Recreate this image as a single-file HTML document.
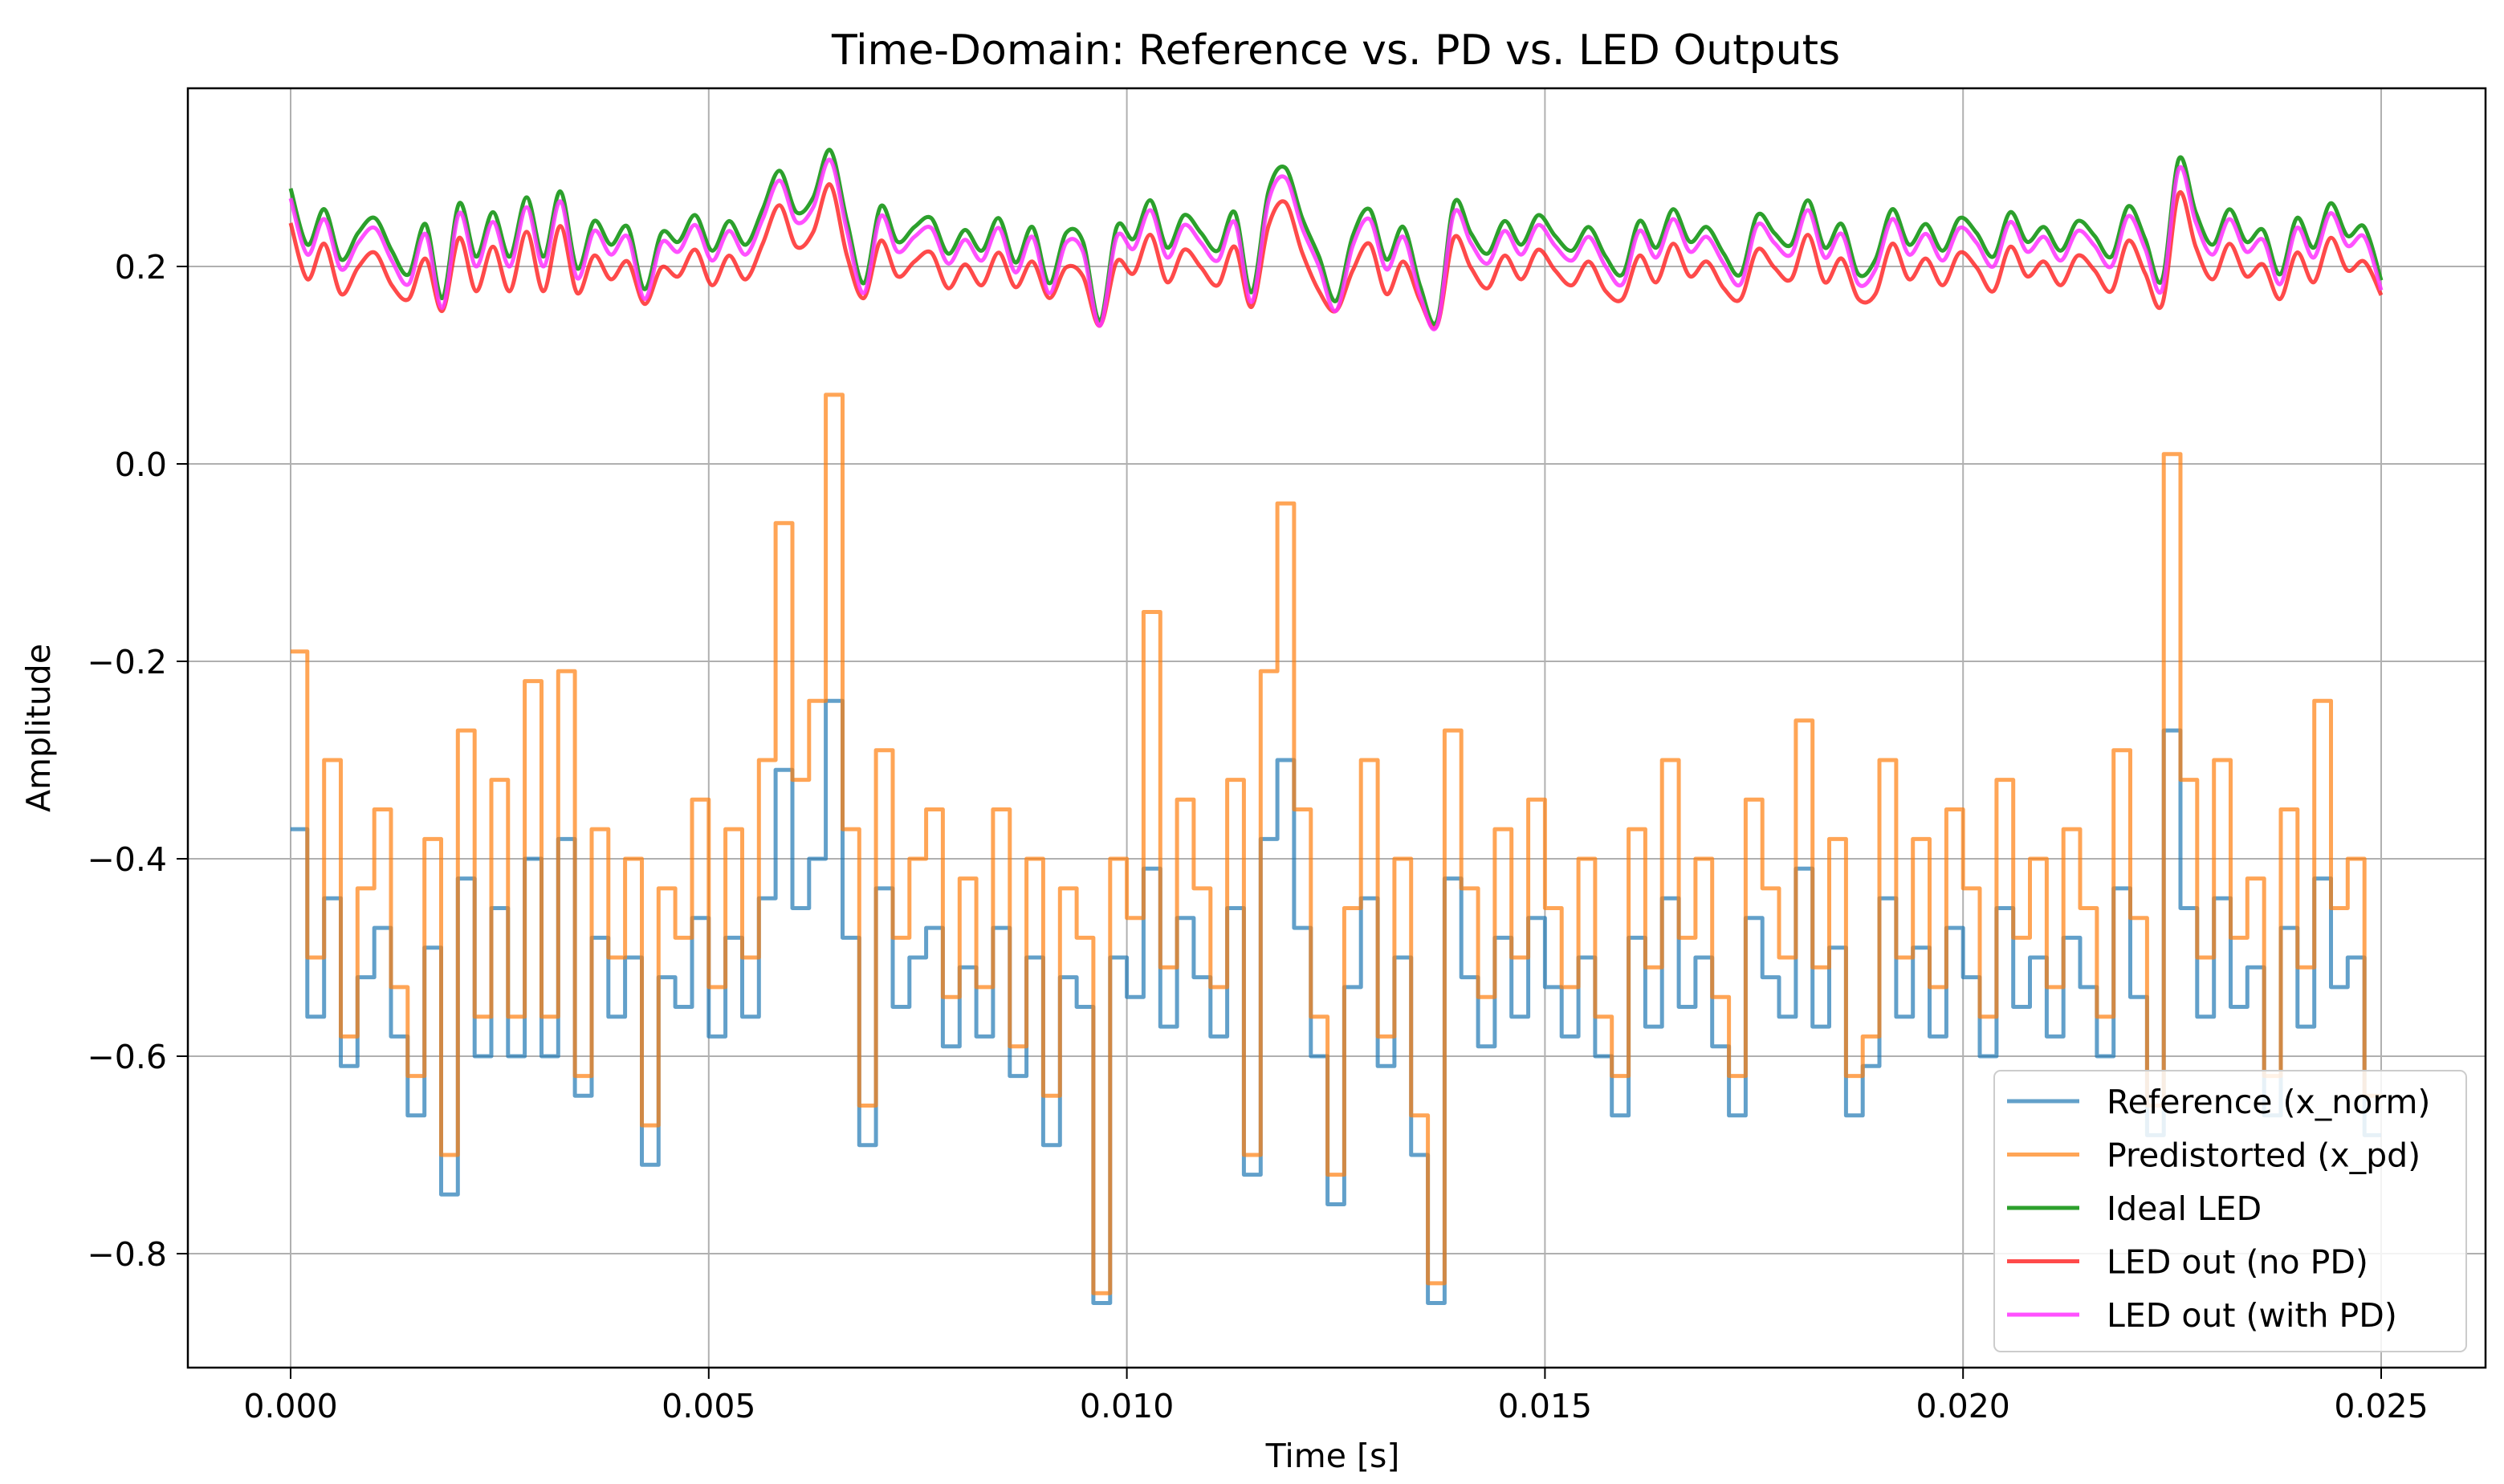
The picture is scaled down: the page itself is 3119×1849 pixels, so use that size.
<!DOCTYPE html>
<html><head><meta charset="utf-8">
<style>
html,body{margin:0;padding:0;background:#fff;}
svg{display:block;font-family:"DejaVu Sans","Liberation Sans",sans-serif;}
</style></head>
<body>
<svg id="chart" width="3119" height="1849" viewBox="0 0 3119 1849" xmlns="http://www.w3.org/2000/svg">
<rect x="0" y="0" width="3119" height="1849" fill="#fff"/>
<g id="grid"></g>
<g id="series"></g>
<rect x="234" y="110" width="2862" height="1594" fill="none" stroke="#000" stroke-width="2.5"/>
<g id="ticks"></g>
<text x="1664" y="80" font-size="52" text-anchor="middle" fill="#000">Time-Domain: Reference vs. PD vs. LED Outputs</text>
<text x="1660" y="1828" font-size="41" text-anchor="middle" fill="#000">Time [s]</text>
<text x="62" y="907" font-size="41" text-anchor="middle" fill="#000" transform="rotate(-90 62 907)">Amplitude</text>
<g id="legend">
<rect x="2484" y="1334" width="588" height="350" rx="8" fill="#fff" fill-opacity="0.85" stroke="#ccc" stroke-width="2"/>
</g>
</svg>
<script>
const xTicks=[0,0.005,0.010,0.015,0.020,0.025];
const xTickLabels=["0.000","0.005","0.010","0.015","0.020","0.025"];
const yTicks=[0.2,0,-0.2,-0.4,-0.6,-0.8];
const yTickLabels=["0.2","0.0","\u22120.2","\u22120.4","\u22120.6","\u22120.8"];
const dt=0.0002;
const refVals=[-0.37,-0.56,-0.44,-0.61,-0.52,-0.47,-0.58,-0.66,-0.49,-0.74,-0.42,-0.60,-0.45,-0.60,-0.40,-0.60,-0.38,-0.64,-0.48,-0.56,-0.50,-0.71,-0.52,-0.55,-0.46,-0.58,-0.48,-0.56,-0.44,-0.31,-0.45,-0.40,-0.24,-0.48,-0.69,-0.43,-0.55,-0.50,-0.47,-0.59,-0.51,-0.58,-0.47,-0.62,-0.50,-0.69,-0.52,-0.55,-0.85,-0.50,-0.54,-0.41,-0.57,-0.46,-0.52,-0.58,-0.45,-0.72,-0.38,-0.30,-0.47,-0.60,-0.75,-0.53,-0.44,-0.61,-0.50,-0.70,-0.85,-0.42,-0.52,-0.59,-0.48,-0.56,-0.46,-0.53,-0.58,-0.50,-0.60,-0.66,-0.48,-0.57,-0.44,-0.55,-0.50,-0.59,-0.66,-0.46,-0.52,-0.56,-0.41,-0.57,-0.49,-0.66,-0.61,-0.44,-0.56,-0.49,-0.58,-0.47,-0.52,-0.60,-0.45,-0.55,-0.50,-0.58,-0.48,-0.53,-0.60,-0.43,-0.54,-0.68,-0.27,-0.45,-0.56,-0.44,-0.55,-0.51,-0.66,-0.47,-0.57,-0.42,-0.53,-0.50,-0.68];
const pdVals=[-0.19,-0.50,-0.30,-0.58,-0.43,-0.35,-0.53,-0.62,-0.38,-0.70,-0.27,-0.56,-0.32,-0.56,-0.22,-0.56,-0.21,-0.62,-0.37,-0.50,-0.40,-0.67,-0.43,-0.48,-0.34,-0.53,-0.37,-0.50,-0.30,-0.06,-0.32,-0.24,0.07,-0.37,-0.65,-0.29,-0.48,-0.40,-0.35,-0.54,-0.42,-0.53,-0.35,-0.59,-0.40,-0.64,-0.43,-0.48,-0.84,-0.40,-0.46,-0.15,-0.51,-0.34,-0.43,-0.53,-0.32,-0.70,-0.21,-0.04,-0.35,-0.56,-0.72,-0.45,-0.30,-0.58,-0.40,-0.66,-0.83,-0.27,-0.43,-0.54,-0.37,-0.50,-0.34,-0.45,-0.53,-0.40,-0.56,-0.62,-0.37,-0.51,-0.30,-0.48,-0.40,-0.54,-0.62,-0.34,-0.43,-0.50,-0.26,-0.51,-0.38,-0.62,-0.58,-0.30,-0.50,-0.38,-0.53,-0.35,-0.43,-0.56,-0.32,-0.48,-0.40,-0.53,-0.37,-0.45,-0.56,-0.29,-0.46,-0.65,0.01,-0.32,-0.50,-0.30,-0.48,-0.42,-0.62,-0.35,-0.51,-0.24,-0.45,-0.40,-0.64];
const idealVals=[0.279,0.222,0.258,0.207,0.234,0.249,0.216,0.192,0.243,0.168,0.264,0.21,0.255,0.21,0.27,0.21,0.276,0.198,0.246,0.222,0.24,0.177,0.234,0.225,0.252,0.216,0.246,0.222,0.258,0.297,0.255,0.27,0.318,0.246,0.183,0.261,0.225,0.24,0.249,0.213,0.237,0.216,0.249,0.204,0.24,0.183,0.234,0.225,0.145,0.24,0.228,0.267,0.219,0.252,0.234,0.216,0.255,0.174,0.276,0.30,0.249,0.21,0.165,0.231,0.258,0.207,0.24,0.18,0.145,0.264,0.234,0.213,0.246,0.222,0.252,0.231,0.216,0.24,0.21,0.192,0.246,0.219,0.258,0.225,0.24,0.213,0.192,0.252,0.234,0.222,0.267,0.219,0.243,0.192,0.207,0.258,0.222,0.243,0.216,0.249,0.234,0.21,0.255,0.225,0.24,0.216,0.246,0.231,0.21,0.261,0.228,0.186,0.309,0.255,0.222,0.258,0.225,0.237,0.192,0.249,0.219,0.264,0.231,0.24,0.186];
const noPdVals=[0.244,0.187,0.223,0.172,0.199,0.214,0.181,0.167,0.208,0.155,0.229,0.175,0.220,0.175,0.235,0.175,0.241,0.173,0.211,0.187,0.205,0.162,0.199,0.190,0.217,0.181,0.211,0.187,0.223,0.262,0.220,0.235,0.283,0.211,0.168,0.226,0.190,0.205,0.214,0.178,0.202,0.181,0.214,0.179,0.205,0.168,0.199,0.190,0.140,0.205,0.193,0.232,0.184,0.217,0.199,0.181,0.220,0.159,0.241,0.265,0.214,0.175,0.155,0.196,0.223,0.172,0.205,0.165,0.140,0.229,0.199,0.178,0.211,0.187,0.217,0.196,0.181,0.205,0.175,0.167,0.211,0.184,0.223,0.190,0.205,0.178,0.167,0.217,0.199,0.187,0.232,0.184,0.208,0.167,0.172,0.223,0.187,0.208,0.181,0.214,0.199,0.175,0.220,0.190,0.205,0.181,0.211,0.196,0.175,0.226,0.193,0.161,0.274,0.220,0.187,0.223,0.190,0.202,0.167,0.214,0.184,0.229,0.196,0.205,0.171];
const withPdVals=[0.269,0.212,0.248,0.197,0.224,0.239,0.206,0.182,0.233,0.158,0.254,0.200,0.245,0.200,0.260,0.200,0.266,0.188,0.236,0.212,0.230,0.167,0.224,0.215,0.242,0.206,0.236,0.212,0.248,0.287,0.245,0.260,0.308,0.236,0.173,0.251,0.215,0.230,0.239,0.203,0.227,0.206,0.239,0.194,0.230,0.173,0.224,0.215,0.140,0.230,0.218,0.257,0.209,0.242,0.224,0.206,0.245,0.164,0.266,0.290,0.239,0.200,0.155,0.221,0.248,0.197,0.230,0.170,0.140,0.254,0.224,0.203,0.236,0.212,0.242,0.221,0.206,0.230,0.200,0.182,0.236,0.209,0.248,0.215,0.230,0.203,0.182,0.242,0.224,0.212,0.257,0.209,0.233,0.182,0.197,0.248,0.212,0.233,0.206,0.239,0.224,0.200,0.245,0.215,0.230,0.206,0.236,0.221,0.200,0.251,0.218,0.176,0.299,0.245,0.212,0.248,0.215,0.227,0.182,0.239,0.209,0.254,0.221,0.230,0.176];

const NS="http://www.w3.org/2000/svg";
const X0=362,X1=2966,T1=0.025;
function xs(t){return X0+(t/T1)*(X1-X0);}
function ys(v){return 578-v*(246/0.2);}
function mk(tag,attrs,parent){const e=document.createElementNS(NS,tag);for(const k in attrs)e.setAttribute(k,attrs[k]);parent.appendChild(e);return e;}
const grid=document.getElementById('grid'),ticks=document.getElementById('ticks'),ser=document.getElementById('series'),leg=document.getElementById('legend');
xTicks.forEach((t,i)=>{
  const g=mk('line',{x1:xs(t),x2:xs(t),y1:110,y2:1704,stroke:'#b0b0b0','stroke-width':2},grid);
  
  
  const tk=mk('line',{x1:xs(t),x2:xs(t),y1:1704,y2:1718,stroke:'#000','stroke-width':2},ticks);
  
  
  const tx=mk('text',{x:xs(t),y:1766,'font-size':41,'text-anchor':'middle',fill:'#000'},ticks);
  tx.textContent=xTickLabels[i];
  
  
});
yTicks.forEach((v,i)=>{
  const g=mk('line',{x1:234,x2:3096,y1:ys(v),y2:ys(v),stroke:'#b0b0b0','stroke-width':2},grid);
  
  
  const tk=mk('line',{x1:220,x2:234,y1:ys(v),y2:ys(v),stroke:'#000','stroke-width':2},ticks);
  
  
  const tx=mk('text',{x:208,y:ys(v)+15,'font-size':41,'text-anchor':'end',fill:'#000'},ticks);
  tx.textContent=yTickLabels[i];
  
  
});
function stepPath(vals){let d='';for(let i=0;i<vals.length;i++){const xa=xs(i*dt),xb=xs(Math.min((i+1)*dt,T1)),y=ys(vals[i]);d+=(i?'L':'M')+xa.toFixed(1)+','+y.toFixed(1)+'L'+xb.toFixed(1)+','+y.toFixed(1);}return d;}
function smoothPath(vals){const p=vals.map((v,i)=>[xs(i*T1/(vals.length-1)),ys(v)]);let d='M'+p[0][0]+','+p[0][1];for(let i=0;i<p.length-1;i++){const a=p[Math.max(i-1,0)],b=p[i],c=p[i+1],e=p[Math.min(i+2,p.length-1)];const c1=[b[0]+(c[0]-a[0])/6,b[1]+(c[1]-a[1])/6],c2=[c[0]-(e[0]-b[0])/6,c[1]-(e[1]-b[1])/6];d+='C'+c1[0].toFixed(1)+','+c1[1].toFixed(1)+' '+c2[0].toFixed(1)+','+c2[1].toFixed(1)+' '+c[0].toFixed(1)+','+c[1].toFixed(1);}return d;}
const series=[
 {vals:refVals,step:true,color:'#1f77b4',op:0.7,name:'reference-line',label:'Reference (x_norm)'},
 {vals:pdVals,step:true,color:'#ff7f0e',op:0.7,name:'predistorted-line',label:'Predistorted (x_pd)'},
 {vals:idealVals,step:false,color:'#2ca02c',op:1,name:'ideal-led-line',label:'Ideal LED'},
 {vals:noPdVals,step:false,color:'#ff2a2a',op:0.85,name:'led-no-pd-line',label:'LED out (no PD)'},
 {vals:withPdVals,step:false,color:'#ff33ff',op:0.85,name:'led-with-pd-line',label:'LED out (with PD)'}
];
series.forEach((s,i)=>{
  const p=mk('path',{d:s.step?stepPath(s.vals):smoothPath(s.vals),fill:'none',stroke:s.color,'stroke-opacity':s.op,'stroke-width':5,'stroke-linejoin':'round'},ser);
  
  
  const ly=1372+i*66.5;
  const ll=mk('line',{x1:2500,x2:2590,y1:ly,y2:ly,stroke:s.color,'stroke-opacity':s.op,'stroke-width':5},leg);
  
  
  const lt=mk('text',{x:2624,y:ly+15,'font-size':41,fill:'#000'},leg);
  lt.textContent=s.label;
  
  
});
</script>
</body></html>
